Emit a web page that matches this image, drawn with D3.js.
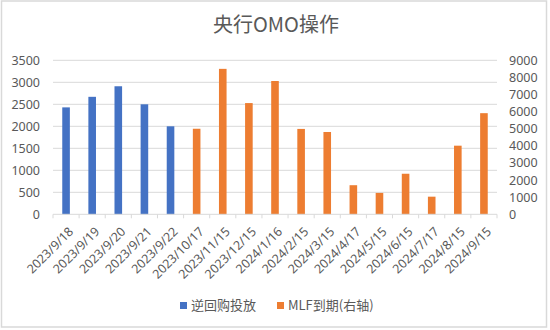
<!DOCTYPE html>
<html><head><meta charset="utf-8">
<script src="https://cdn.jsdelivr.net/npm/d3@7"></script>
<style>body{margin:0;background:#fff}svg{display:block}</style>
</head><body>
<svg id="c" width="550" height="330"></svg>
<script>
const categories = ["2023/9/18","2023/9/19","2023/9/20","2023/9/21","2023/9/22","2023/10/17","2023/11/15","2023/12/15","2024/1/16","2024/2/15","2024/3/15","2024/4/17","2024/5/15","2024/6/15","2024/7/17","2024/8/15","2024/9/15"];
const repoValues = [2430,2670,2910,2500,2000,null,null,null,null,null,null,null,null,null,null,null,null];
const mlfValues  = [null,null,null,null,null,5000,8500,6500,7790,4990,4810,1700,1250,2370,1030,4010,5910];
const leftTicks = [0,500,1000,1500,2000,2500,3000,3500];
const rightTicks = [0,1000,2000,3000,4000,5000,6000,7000,8000,9000];
const seriesNames = ["逆回购投放","MLF到期(右轴)"];
const title = "央行OMO操作";

const svg = d3.select("#c");
const font = "'Noto Sans', 'Open Sans', sans-serif";
const cjk = "'Noto Sans CJK SC', 'Microsoft YaHei', sans-serif";
const gray = "#595959";
const blue = "#4472C4", orange = "#ED7D31";

svg.append("rect").attr("x",1.5).attr("y",1).attr("width",545).attr("height",326)
  .attr("fill","#fff").attr("stroke","#D9D9D9").attr("stroke-width",1.5);

const L = 53, R = 497, T = 60.3, B = 214.3;
const x = d3.scaleBand().domain(categories).range([L,R]);
const yL = d3.scaleLinear().domain([0,3500]).range([B,T]);
const yR = d3.scaleLinear().domain([0,9000]).range([B,T]);

// gridlines
svg.append("g").selectAll("line").data(leftTicks.slice(1)).join("line")
  .attr("x1",L).attr("x2",R).attr("y1",d=>yL(d)).attr("y2",d=>yL(d))
  .attr("stroke","#D9D9D9").attr("stroke-width",1);

const bw = 7.6;
svg.append("g").selectAll("rect").data(categories.map((c,i)=>({c,v:repoValues[i]})).filter(d=>d.v!=null)).join("rect")
  .attr("x",d=>x(d.c)+x.bandwidth()/2-bw/2).attr("width",bw)
  .attr("y",d=>yL(d.v)).attr("height",d=>B-yL(d.v)).attr("fill",blue);
svg.append("g").selectAll("rect").data(categories.map((c,i)=>({c,v:mlfValues[i]})).filter(d=>d.v!=null)).join("rect")
  .attr("x",d=>x(d.c)+x.bandwidth()/2-bw/2).attr("width",bw)
  .attr("y",d=>yR(d.v)).attr("height",d=>B-yR(d.v)).attr("fill",orange);

// x axis
const xa = svg.append("g").attr("transform",`translate(0,${B})`);
xa.append("line").attr("x1",L).attr("x2",R).attr("stroke","#D9D9D9").attr("stroke-width",1);
const bounds = categories.map(c=>x(c)).concat([R]);
xa.selectAll("line.t").data(bounds).join("line").attr("class","t")
  .attr("x1",d=>d).attr("x2",d=>d).attr("y1",0).attr("y2",4)
  .attr("stroke","#D9D9D9");
xa.selectAll("text").data(categories).join("text")
  .attr("transform",d=>`translate(${x(d)+x.bandwidth()/2+5},${15}) rotate(-45)`)
  .attr("text-anchor","end").attr("dy","0.35em")
  .attr("font-family",font).attr("font-size",12.5).attr("fill",gray).text(d=>d);

// left axis
const yla = d3.axisLeft(yL).tickValues(leftTicks).tickFormat(d3.format("d")).tickSize(0).tickPadding(0);
svg.append("g").attr("transform",`translate(40,0)`).call(yla)
  .call(g=>g.select(".domain").remove())
  .selectAll("text").attr("font-family",font).attr("font-size",12.5).attr("fill",gray);
// right axis
const yra = d3.axisRight(yR).tickValues(rightTicks).tickFormat(d3.format("d")).tickSize(0).tickPadding(0);
svg.append("g").attr("transform",`translate(509,0)`).call(yra)
  .call(g=>g.select(".domain").remove())
  .selectAll("text").attr("font-family",font).attr("font-size",12.5).attr("fill",gray);

// title
svg.append("text").attr("x",276).attr("y",32).attr("text-anchor","middle")
  .attr("font-family",cjk).attr("font-size",20).attr("fill",gray).text(title);

// legend
const lg = svg.append("g");
const items = [{n:seriesNames[0],c:blue,x:180},{n:seriesNames[1],c:orange,x:277}];
items.forEach(it=>{
  lg.append("rect").attr("x",it.x).attr("y",302).attr("width",7).attr("height",7).attr("fill",it.c);
  lg.append("text").attr("x",it.x+11).attr("y",305.5).attr("dy","0.35em")
    .attr("font-family",cjk).attr("font-size",13).attr("fill",gray).text(it.n);
});
</script>
</body></html>
